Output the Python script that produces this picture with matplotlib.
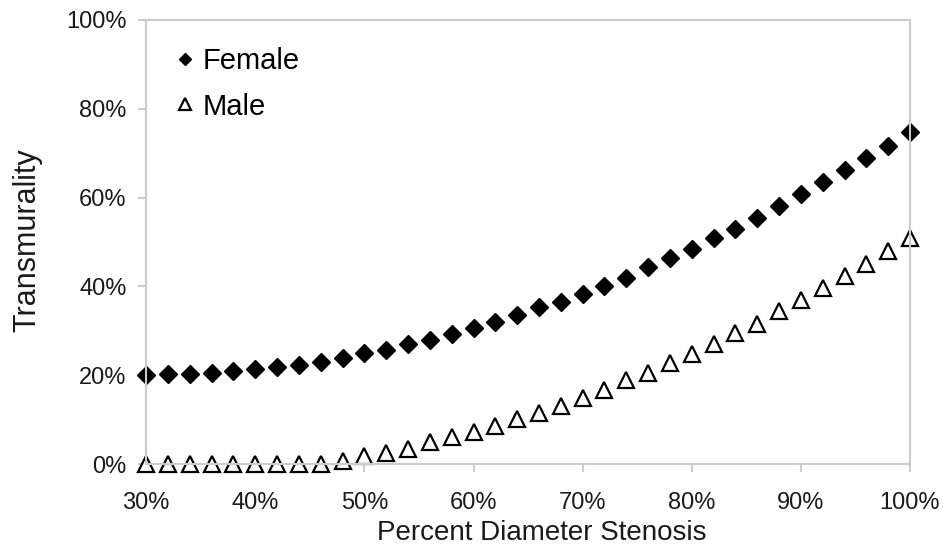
import numpy as np
import matplotlib.pyplot as plt
from matplotlib.ticker import PercentFormatter

plt.rcParams['font.family'] = ['Liberation Sans', 'DejaVu Sans']

# stenosis (%) and transmurality (%)
stenose = list(range(30, 101, 2))
feminino = [20.0, 20.2, 20.3, 20.6, 21.0, 21.4, 21.9, 22.4, 23.0, 23.9,
            25.0, 25.8, 27.0, 27.9, 29.2, 30.6, 32.1, 33.5, 35.3, 36.6,
            38.2, 40.2, 42.0, 44.3, 46.3, 48.5, 50.8, 53.0, 55.5, 58.0,
            60.7, 63.4, 66.1, 69.0, 71.7, 74.8]
masculino = [0.0, 0.0, 0.0, 0.0, 0.0, 0.0, 0.0, 0.0, 0.0, 0.8,
             1.8, 2.6, 3.5, 5.0, 6.1, 7.3, 8.6, 10.2, 11.6, 13.2,
             15.0, 16.8, 18.9, 20.6, 22.7, 24.9, 27.1, 29.5, 31.6, 34.4,
             36.9, 39.6, 42.3, 45.1, 48.0, 51.0]

fig = plt.figure(figsize=(9.43, 5.5), dpi=100)
ax = fig.add_axes([0.155, 0.156, 0.81, 0.808])

ax.plot(stenose, feminino, 'D', color='black', ms=9, label='Female', clip_on=False)
ax.plot(stenose, masculino, '^', mfc='white', mec='black', mew=1.6, ms=12,
        label='Male', clip_on=False)

ax.set_xlim(30, 100)
ax.set_ylim(0, 100)
ax.set_xticks(range(30, 101, 10))
ax.set_yticks(range(0, 101, 20))
ax.xaxis.set_major_formatter(PercentFormatter(decimals=0))
ax.yaxis.set_major_formatter(PercentFormatter(decimals=0))

for s in ax.spines.values():
    s.set_color('#cccccc')
    s.set_linewidth(1.5)
ax.tick_params(colors='#cccccc', labelcolor='#1a1a1a', labelsize=17,
               length=6, width=1.5, direction='out')
ax.tick_params(axis='y', pad=8)
ax.tick_params(axis='x', pad=14)

ax.set_xlabel('Percent Diameter Stenosis', fontsize=20, color='#1a1a1a')
ax.set_ylabel('Transmurality', fontsize=22, color='#1a1a1a')
ax.xaxis.set_label_coords(0.518, -0.125)
ax.yaxis.set_label_coords(-0.136, 0.505)

ax.legend(loc='upper left', bbox_to_anchor=(0.013, 0.965), frameon=False,
          fontsize=21, markerscale=0.7, handletextpad=0.0, handlelength=1.2,
          borderaxespad=0.0, labelspacing=0.6)

fig.savefig('out.png', dpi=100)
